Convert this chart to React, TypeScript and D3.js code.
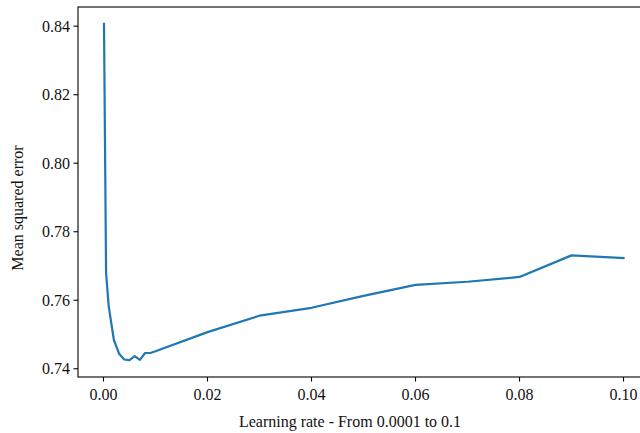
import * as d3 from 'd3'
import { useEffect, useRef } from 'react'

// learning rates tried and the resulting error
const learningRates = [
  0.0001, 0.0005, 0.001, 0.002, 0.003, 0.004, 0.005, 0.006, 0.007, 0.008, 0.009, 0.01,
  0.02, 0.03, 0.04, 0.05, 0.06, 0.07, 0.08, 0.09, 0.1,
]
const mseValues = [
  0.8407, 0.7679, 0.7583, 0.7484, 0.7444, 0.7427, 0.7425, 0.7437, 0.7426, 0.7446, 0.7446, 0.7451,
  0.7507, 0.7555, 0.7578, 0.7613, 0.7645, 0.7654, 0.7668, 0.7731, 0.7723,
]
const xTicks = [0, 0.02, 0.04, 0.06, 0.08, 0.1]
const yTicks = [0.74, 0.76, 0.78, 0.8, 0.82, 0.84]

const W = 640
const H = 433

export default function App() {
  const ref = useRef<SVGSVGElement>(null)

  useEffect(() => {
    const svg = d3.select(ref.current)
    svg.selectAll('*').remove()

    const left = 78, right = 649, top = 7, bottom = 377
    const font = "'Liberation Serif', 'DejaVu Serif', serif"

    const x = d3.scaleLinear().domain([-0.0049, 0.1049]).range([left, right])
    const y = d3.scaleLinear().domain([0.7376, 0.8456]).range([bottom, top])

    svg.append('rect').attr('width', W).attr('height', H).attr('fill', '#fff')

    // line
    const line = d3.line<number>()
      .x((_, i) => x(learningRates[i]))
      .y(d => y(d))
    svg.append('path')
      .datum(mseValues)
      .attr('d', line)
      .attr('fill', 'none')
      .attr('stroke', '#1f77b4')
      .attr('stroke-width', 2.2)
      .attr('stroke-linejoin', 'round')
      .attr('stroke-linecap', 'square')

    // frame
    svg.append('rect')
      .attr('x', left).attr('y', top)
      .attr('width', right - left).attr('height', bottom - top)
      .attr('fill', 'none').attr('stroke', '#000').attr('stroke-width', 1.1)

    const txt = (sel: any) => sel.style('font-family', font).style('font-size', '16px').attr('fill', '#111')

    // x ticks
    const xg = svg.append('g')
    xTicks.forEach(t => {
      xg.append('line')
        .attr('x1', x(t)).attr('x2', x(t))
        .attr('y1', bottom).attr('y2', bottom + 4.5)
        .attr('stroke', '#000').attr('stroke-width', 1.1)
      xg.append('text')
        .attr('x', x(t)).attr('y', bottom + 23)
        .attr('text-anchor', 'middle')
        .call(txt)
        .text(t.toFixed(2))
    })

    // y ticks
    const yg = svg.append('g')
    yTicks.forEach(t => {
      yg.append('line')
        .attr('x1', left - 4.5).attr('x2', left)
        .attr('y1', y(t)).attr('y2', y(t))
        .attr('stroke', '#000').attr('stroke-width', 1.1)
      yg.append('text')
        .attr('x', left - 8).attr('y', y(t))
        .attr('dy', '0.35em')
        .attr('text-anchor', 'end')
        .call(txt)
        .text(t.toFixed(2))
    })

    svg.append('text')
      .attr('x', 350).attr('y', 427)
      .attr('text-anchor', 'middle')
      .call(txt)
      .text('Learning rate - From 0.0001 to 0.1')

    svg.append('text')
      .attr('transform', `translate(23,${208}) rotate(-90)`)
      .attr('text-anchor', 'middle')
      .call(txt)
      .text('Mean squared error')
  }, [])

  return (
    <svg
      ref={ref}
      width={W}
      height={H}
      style={{ position: 'fixed', left: 0, top: 0, display: 'block' }}
    />
  )
}
